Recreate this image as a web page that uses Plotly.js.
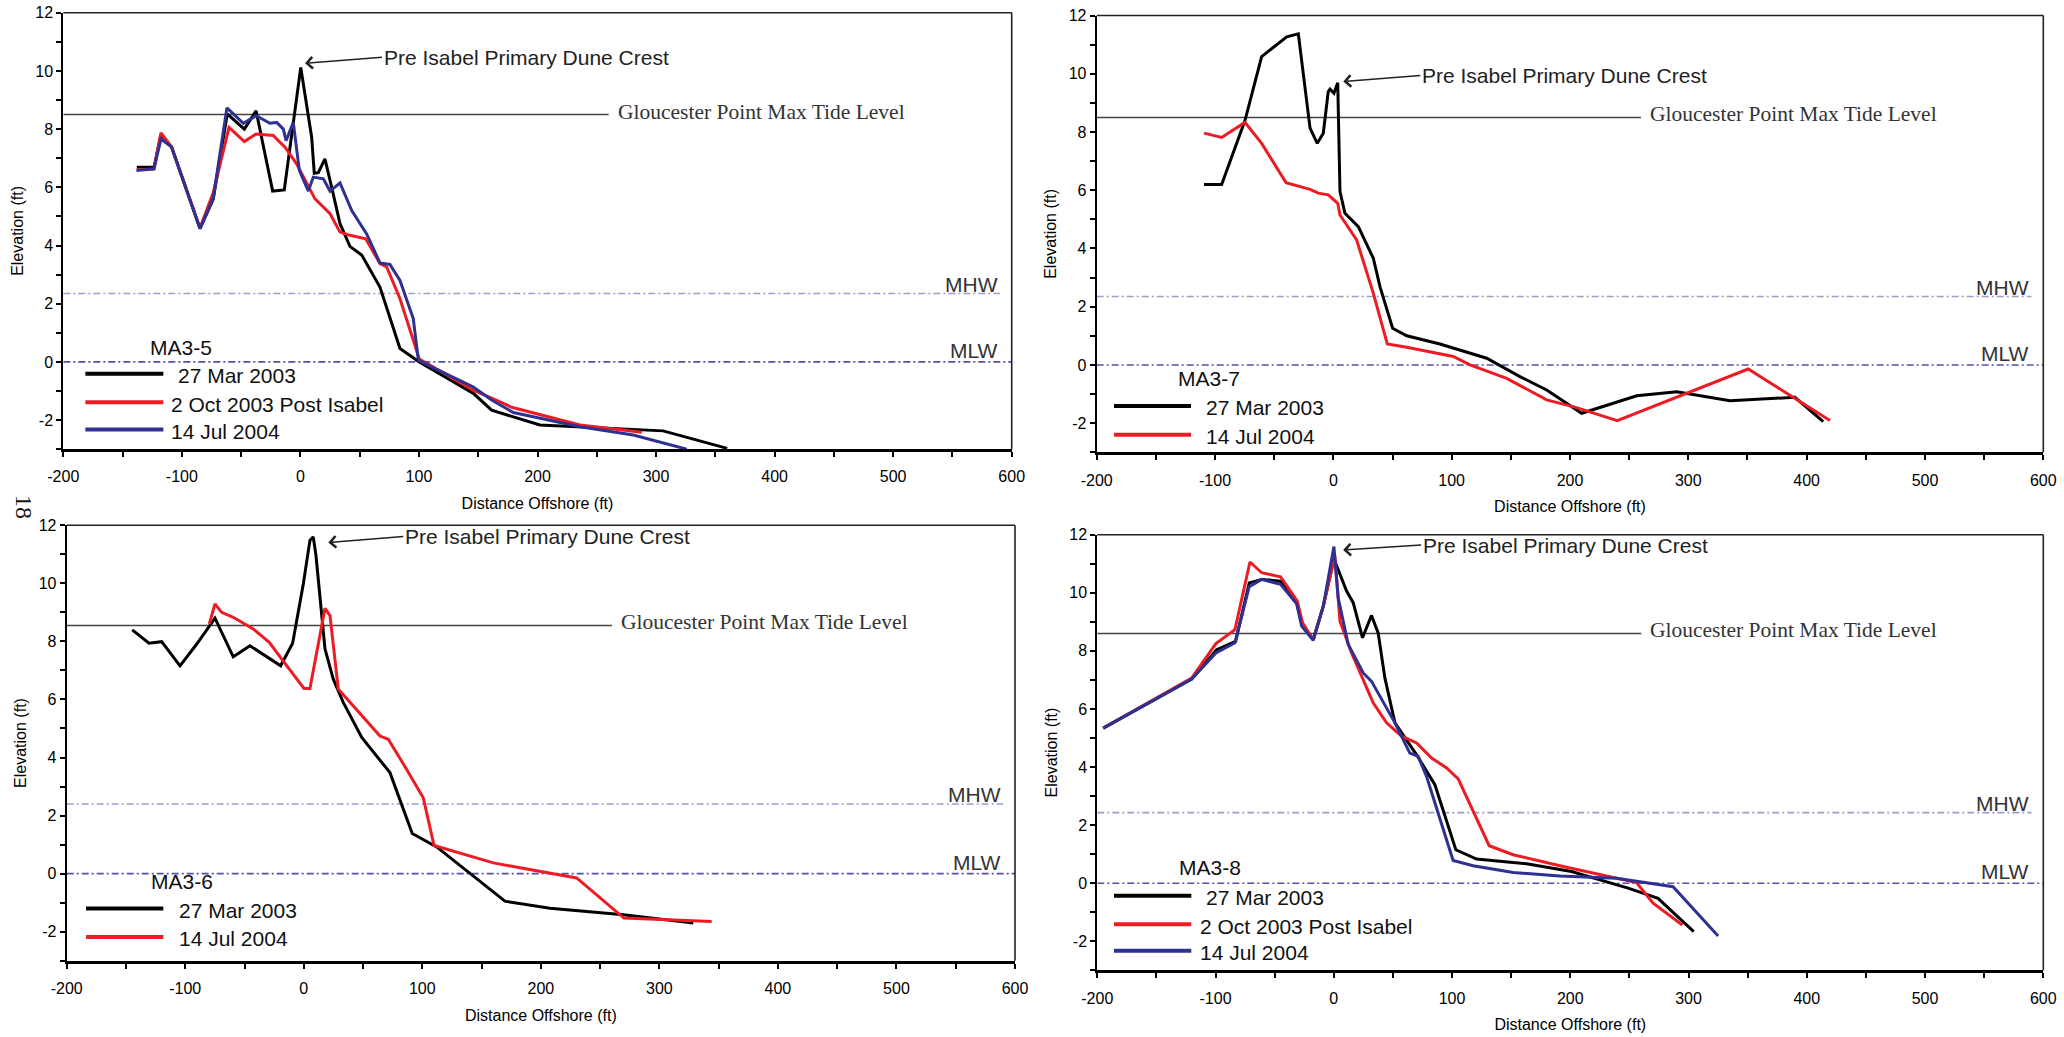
<!DOCTYPE html>
<html>
<head>
<meta charset="utf-8">
<script src="https://cdn.plot.ly/plotly-3.0.1.min.js"></script>
<style>
html,body{margin:0;padding:0;background:#ffffff;}
#chart{width:2064px;height:1037px;}
</style>
</head>
<body>
<div id="chart"></div>
<script>
// ---------------- DATA ----------------
const profileIds = ['MA3-5', 'MA3-7', 'MA3-6', 'MA3-8'];
const nameMar03 = '27 Mar 2003';
const nameOct03 = '2 Oct 2003 Post Isabel';
const nameJul04 = '14 Jul 2004';

// MA3-5
const ma35_mar03_x = [-138, -123.5, -117.6, -108.6, -84.7, -73.5, -61.7, -47.3, -37.4, -23.4, -13.6, 0.3, 9.5, 11.7, 15.1, 20.7, 26.4, 33.4, 41.8, 51.7, 67.1, 84, 100.3, 115, 145.9, 161.3, 185, 202, 306, 360];
const ma35_mar03_y = [6.69, 6.69, 7.83, 7.38, 4.58, 5.6, 8.52, 8.0, 8.63, 5.87, 5.91, 10.12, 7.72, 6.48, 6.5, 6.98, 6.0, 4.75, 3.97, 3.67, 2.57, 0.46, 0.0, -0.34, -1.08, -1.66, -1.97, -2.17, -2.37, -2.97];
const ma35_oct03_x = [-138, -123.5, -117.6, -108.6, -84.7, -73.5, -60.2, -47.3, -37.4, -22.9, -13, -3.1, 12.3, 25, 33.4, 41.8, 55.1, 67.1, 72.8, 84, 100.3, 145.9, 168.4, 178.2, 235.9, 288];
const ma35_oct03_y = [6.6, 6.63, 7.87, 7.38, 4.6, 5.82, 8.06, 7.57, 7.83, 7.78, 7.38, 6.8, 5.6, 5.09, 4.46, 4.35, 4.23, 3.38, 3.26, 2.17, 0.1, -0.97, -1.37, -1.56, -2.17, -2.42];
const ma35_jul04_x = [-138.3, -123.5, -117.6, -108.6, -84.7, -73.5, -62, -48.1, -37.4, -25.6, -20, -14.4, -12.1, -6, -0.9, 6.7, 10.9, 19.3, 25, 33.4, 43.3, 55.9, 67.1, 75.5, 84, 95.2, 99.5, 115, 145.9, 161.3, 179.6, 235.9, 280.8, 325.9];
const ma35_jul04_y = [6.58, 6.63, 7.66, 7.38, 4.58, 5.63, 8.73, 8.2, 8.46, 8.2, 8.23, 8.0, 7.6, 8.23, 6.58, 5.87, 6.35, 6.29, 5.87, 6.15, 5.2, 4.4, 3.4, 3.35, 2.8, 1.49, 0.06, -0.26, -0.86, -1.31, -1.74, -2.23, -2.51, -3.0];

// MA3-7
const ma37_mar03_x = [-109.3, -94.4, -74.7, -60.6, -39.4, -29.6, -19.7, -13.6, -8.5, -4.3, -2.8, 0.5, 3.7, 5.6, 9.8, 21.1, 33.8, 39.4, 50.1, 62, 90.1, 129.6, 157.7, 180.3, 209.9, 256.4, 290.2, 335.2, 390.1, 414];
const ma37_mar03_y = [6.2, 6.2, 8.39, 10.59, 11.27, 11.37, 8.13, 7.61, 7.96, 9.39, 9.47, 9.33, 9.69, 5.95, 5.21, 4.75, 3.66, 2.69, 1.26, 1.0, 0.72, 0.23, -0.4, -0.86, -1.66, -1.06, -0.92, -1.23, -1.11, -1.95];
const ma37_jul04_x = [-109.3, -94.4, -74.7, -60.6, -40, -19.7, -12.7, -4.3, 3.7, 5.6, 19.7, 33.8, 45.6, 62, 101.4, 115.5, 146.5, 180.3, 204.2, 239.9, 350.6, 419.7];
const ma37_jul04_y = [7.96, 7.81, 8.33, 7.61, 6.26, 6.03, 5.9, 5.84, 5.55, 5.15, 4.29, 2.46, 0.72, 0.61, 0.29, 0.0, -0.46, -1.2, -1.45, -1.91, -0.14, -1.91];

// MA3-6
const ma36_mar03_x = [-144.7, -130.6, -119.9, -104.4, -90.3, -74.9, -59.5, -45.4, -19.5, -9.4, -0.4, 5.2, 8, 10.3, 17.9, 24.9, 33.3, 48.9, 72.7, 91.5, 112.1, 169.7, 207.7, 269.6, 328.6];
const ma36_mar03_y = [8.4, 7.94, 7.99, 7.16, 7.91, 8.8, 7.47, 7.85, 7.16, 7.94, 9.98, 11.48, 11.6, 10.96, 7.74, 6.7, 5.9, 4.69, 3.48, 1.38, 0.92, -0.95, -1.19, -1.42, -1.7];
const ma36_jul04_x = [-79.7, -74.9, -69.3, -59.5, -42.6, -29.1, -18.6, -8.8, 0.2, 5.2, 17.9, 22.1, 29.1, 64.3, 71.3, 86.8, 100.8, 109.9, 159.9, 182.4, 230.2, 270.1, 344.1];
const ma36_jul04_y = [8.6, 9.29, 9.0, 8.83, 8.43, 7.97, 7.39, 6.87, 6.38, 6.38, 9.14, 8.89, 6.36, 4.74, 4.63, 3.59, 2.61, 0.97, 0.37, 0.2, -0.15, -1.53, -1.65];

// MA3-8
const ma38_mar03_x = [-195, -120.2, -99.1, -83, -71.5, -61, -45, -31.4, -27.2, -17.4, -8.9, 0.1, 10.8, 16.4, 24.3, 31.9, 37.5, 43.2, 51.7, 61.5, 70, 85.5, 103.2, 120.7, 163, 201, 230.6, 248.9, 274.2, 304.4];
const ma38_mar03_y = [5.34, 7.03, 8.04, 8.33, 10.34, 10.46, 10.4, 9.66, 8.97, 8.39, 9.54, 11.17, 10.06, 9.66, 8.45, 9.22, 8.62, 7.07, 5.52, 4.94, 4.42, 3.39, 1.15, 0.83, 0.67, 0.4, 0.06, -0.17, -0.52, -1.67];
const ma38_oct03_x = [-195, -120.2, -99.7, -83.6, -70.9, -61, -45, -30.9, -26.4, -17.4, -8.9, 0.9, 5.2, 15, 33.3, 44.6, 57.3, 70, 82.7, 95.4, 105.2, 131.4, 151.7, 191.1, 256, 270, 294.8];
const ma38_oct03_y = [5.34, 7.06, 8.25, 8.73, 11.06, 10.69, 10.55, 9.71, 8.97, 8.38, 9.54, 11.26, 9.02, 7.93, 6.21, 5.52, 5.06, 4.83, 4.31, 3.97, 3.59, 1.29, 0.98, 0.6, 0.02, -0.69, -1.44];
const ma38_jul04_x = [-195, -120.2, -99.7, -83.6, -71.5, -61, -45, -31.4, -27.2, -17.4, -8.9, 0.1, 3.7, 12.2, 24.9, 31.9, 51.7, 64.3, 71.3, 78.4, 100.9, 117.8, 151.7, 191.1, 239, 286.9, 325];
const ma38_jul04_y = [5.34, 7.03, 7.93, 8.28, 10.21, 10.46, 10.29, 9.62, 8.85, 8.36, 9.54, 11.59, 9.83, 8.22, 7.24, 6.95, 5.52, 4.48, 4.37, 3.68, 0.78, 0.6, 0.37, 0.25, 0.17, -0.12, -1.82];

// Reference levels (ft)
const tideLevel = [8.5, 8.5, 8.55, 8.6];
const mhwLevel = [2.35, 2.35, 2.4, 2.43];
const mlwLevel = [0, 0, 0, 0];

// Tick values and labels (hyphen minus as in the original)
const xTickVals = [-200, -100, 0, 100, 200, 300, 400, 500, 600];
const xTickText = ['-200', '-100', '0', '100', '200', '300', '400', '500', '600'];
const yTickVals = [-2, 0, 2, 4, 6, 8, 10, 12];
const yTickText = ['-2', '0', '2', '4', '6', '8', '10', '12'];

const tideText = 'Gloucester Point Max Tide Level';
const crestText = 'Pre Isabel Primary Dune Crest';
const xTitle = 'Distance Offshore (ft)';
const yTitle = 'Elevation (ft)';
const pageNumber = '18';

// ---------------- BUILD ----------------
const panels = [
  { id: profileIds[0], series: [[nameMar03, ma35_mar03_x, ma35_mar03_y], [nameOct03, ma35_oct03_x, ma35_oct03_y], [nameJul04, ma35_jul04_x, ma35_jul04_y]] },
  { id: profileIds[1], series: [[nameMar03, ma37_mar03_x, ma37_mar03_y], [nameJul04, ma37_jul04_x, ma37_jul04_y]] },
  { id: profileIds[2], series: [[nameMar03, ma36_mar03_x, ma36_mar03_y], [nameJul04, ma36_jul04_x, ma36_jul04_y]] },
  { id: profileIds[3], series: [[nameMar03, ma38_mar03_x, ma38_mar03_y], [nameOct03, ma38_oct03_x, ma38_oct03_y], [nameJul04, ma38_jul04_x, ma38_jul04_y]] }
];

const W = 2064, H = 1037;
const lineColors = ['#000000', '#ed1c24', '#2e3192'];
const SANS = 'Liberation Sans, Arial, Helvetica, sans-serif';
const SERIF = 'Liberation Serif, Times New Roman, serif';

// layout geometry (pixels in the page) and decoration placement
const geo = [
  { l: 63.3, r: 1011.7, t: 12.7, b: 449.2, tip: [3.9, 10.26], ax: 77, ay: -6, lab: [-128.3, 0.49], leg: { x0: -181.4, x1: -115.6, tx: [-105.2, -110.8, -110.8], ty: [-0.41, -1.39, -2.32] } },
  { l: 1096.7, r: 2043.3, t: 15.5, b: 452.3, tip: [8.4, 9.73], ax: 77, ay: -6, lab: [-132.9, -0.48], leg: { x0: -185.4, x1: -120.3, tx: [-109.6, -109.6], ty: [-1.41, -2.40] } },
  { l: 66.7, r: 1015, t: 525.3, b: 960.7, tip: [20.7, 11.41], ax: 75, ay: -6, lab: [-130.3, -0.28], leg: { x0: -183.7, x1: -118.5, tx: [-107, -107], ty: [-1.20, -2.18] } },
  { l: 1097.3, r: 2043.3, t: 534.7, b: 970.3, tip: [7.9, 11.47], ax: 78, ay: -5, lab: [-132.9, 0.53], leg: { x0: -185.9, x1: -120.5, tx: [-109.6, -115.1, -115.1], ty: [-0.43, -1.41, -2.33] } }
];

const traces = [];
const shapes = [];
const annotations = [];
const layout = {
  width: W, height: H, autosize: false,
  margin: { l: 0, r: 0, t: 0, b: 0, pad: 0 },
  paper_bgcolor: '#ffffff', plot_bgcolor: '#ffffff',
  showlegend: false,
  font: { family: SANS, color: '#000000' }
};

panels.forEach((p, i) => {
  const g = geo[i];
  const n = i === 0 ? '' : String(i + 1);
  const xa = 'x' + n, ya = 'y' + n;

  layout['xaxis' + n] = {
    domain: [g.l / W, g.r / W], anchor: ya,
    range: [-200, 600],
    tickmode: 'array', tickvals: xTickVals, ticktext: xTickText,
    ticks: 'outside', ticklen: 5, tickwidth: 2, tickcolor: '#000',
    minor: { tickmode: 'linear', tick0: 0, dtick: 50, ticks: 'outside', ticklen: 5, tickwidth: 2, tickcolor: '#000', showgrid: false },
    showline: true, linewidth: 3, linecolor: '#000',
    showgrid: false, zeroline: false,
    tickfont: { family: SANS, size: 16, color: '#000' },
    ticklabelstandoff: 6,
    title: { text: xTitle, font: { family: SANS, size: 16, color: '#000' }, standoff: 14 }
  };
  layout['yaxis' + n] = {
    domain: [1 - g.b / H, 1 - g.t / H], anchor: xa,
    range: [-3, 12],
    tickmode: 'array', tickvals: yTickVals, ticktext: yTickText,
    ticks: 'outside', ticklen: 5, tickwidth: 2, tickcolor: '#000',
    minor: { tickmode: 'linear', tick0: 0, dtick: 1, ticks: 'outside', ticklen: 5, tickwidth: 2, tickcolor: '#000', showgrid: false },
    showline: true, linewidth: 2, linecolor: '#000',
    showgrid: false, zeroline: false,
    tickfont: { family: SANS, size: 16, color: '#000' },
    title: { text: yTitle, font: { family: SANS, size: 16, color: '#000' }, standoff: 8 }
  };

  // frame (top and right)
  shapes.push({ type: 'line', xref: xa + ' domain', yref: ya + ' domain', x0: 0, x1: 1, y0: 1, y1: 1, line: { color: '#222', width: 1.6 }, layer: 'above' });
  shapes.push({ type: 'line', xref: xa + ' domain', yref: ya + ' domain', x0: 1, x1: 1, y0: 0, y1: 1, line: { color: '#222', width: 1.6 }, layer: 'above' });

  // reference lines
  shapes.push({ type: 'line', xref: xa, yref: ya, x0: -200, x1: 260, y0: tideLevel[i], y1: tideLevel[i], line: { color: '#444', width: 1.5 }, layer: 'below' });
  shapes.push({ type: 'line', xref: xa, yref: ya, x0: -200, x1: 590, y0: mhwLevel[i], y1: mhwLevel[i], line: { color: '#9c9cd2', width: 1.6, dash: '7px,3px,2px,3px' }, layer: 'below' });
  shapes.push({ type: 'line', xref: xa, yref: ya, x0: -200, x1: 600, y0: mlwLevel[i], y1: mlwLevel[i], line: { color: '#5252a6', width: 1.6, dash: '7px,3px,2px,3px' }, layer: 'below' });

  annotations.push({ xref: xa, yref: ya, x: 266, y: tideLevel[i], text: tideText, showarrow: false, xanchor: 'left', yanchor: 'middle', yshift: 3, font: { family: SERIF, size: 21.5, color: '#333' } });
  annotations.push({ xref: xa, yref: ya, x: 590, y: mhwLevel[i], text: 'MHW', showarrow: false, xanchor: 'right', yanchor: 'bottom', yshift: -4, font: { family: SANS, size: 21, color: '#333' } });
  annotations.push({ xref: xa, yref: ya, x: 590, y: mlwLevel[i], text: 'MLW', showarrow: false, xanchor: 'right', yanchor: 'bottom', yshift: -2, font: { family: SANS, size: 21, color: '#333' } });

  // dune crest arrow
  annotations.push({ xref: xa, yref: ya, x: g.tip[0], y: g.tip[1], ax: g.ax, ay: g.ay, text: crestText, showarrow: true, arrowhead: 4, arrowsize: 1.5, arrowwidth: 1.5, arrowcolor: '#222', xanchor: 'left', yanchor: 'middle', font: { family: SANS, size: 21, color: '#222' } });

  // profile label
  annotations.push({ xref: xa, yref: ya, x: g.lab[0], y: g.lab[1], text: p.id, showarrow: false, xanchor: 'left', yanchor: 'middle', font: { family: SANS, size: 21, color: '#111' } });

  p.series.forEach((s, k) => {
    traces.push({ type: 'scatter', mode: 'lines', name: s[0], x: s[1], y: s[2], xaxis: xa, yaxis: ya, line: { color: lineColors[k], width: 3 }, hoverinfo: 'skip' });
    // legend key drawn in the panel
    shapes.push({ type: 'line', xref: xa, yref: ya, x0: g.leg.x0, x1: g.leg.x1, y0: g.leg.ty[k], y1: g.leg.ty[k], line: { color: lineColors[k], width: 4 }, layer: 'above' });
    annotations.push({ xref: xa, yref: ya, x: g.leg.tx[k], y: g.leg.ty[k], text: s[0], showarrow: false, xanchor: 'left', yanchor: 'middle', yshift: -2, font: { family: SANS, size: 21, color: '#111' } });
  });
});

annotations.push({ xref: 'paper', yref: 'paper', x: 24 / W, y: 1 - 507 / H, text: pageNumber, showarrow: false, textangle: 90, xanchor: 'center', yanchor: 'middle', font: { family: SERIF, size: 24, color: '#111' } });

layout.shapes = shapes;
layout.annotations = annotations;

Plotly.newPlot('chart', traces, layout, { staticPlot: true, displayModeBar: false });
</script>
</body>
</html>
